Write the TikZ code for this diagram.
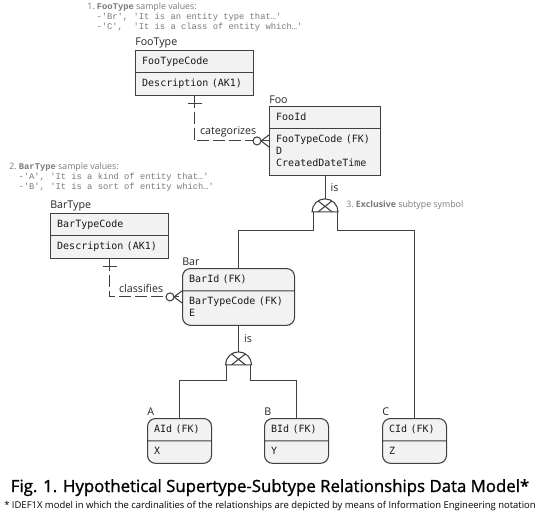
\documentclass[tikz,border=0pt]{standalone}
\usepackage{fontspec}
\setmainfont{Open Sans}
\setmonofont{Liberation Mono}
\newfontfamily\boxmono[WordSpace={1,0,0}]{DejaVu Sans Mono}
\newfontfamily\titlefont[FakeBold=1.2]{Open Sans}
\usetikzlibrary{shapes.multipart, positioning, calc}

\definecolor{boxfill}{HTML}{F2F2F2}
\definecolor{boxline}{HTML}{404040}
\definecolor{notegray}{HTML}{7A7A7A}

\begin{document}
\begin{tikzpicture}[
    x=0.75pt, y=-0.75pt,
    entity/.style={rectangle split, rectangle split parts=2, draw=boxline, fill=boxfill,
        line width=0.8pt, font=\boxmono\fontsize{7.5}{9}\selectfont, text=black!90,
        text width=#1, align=left, inner xsep=5pt, inner ysep=3.5pt, anchor=north west},
    depentity/.style={entity=#1, rounded corners=6pt},
    ename/.style={font=\fontsize{8}{9}\selectfont, text=black!85, inner sep=0pt},
    rel/.style={draw=boxline, line width=0.8pt},
    nonid/.style={rel, dash pattern=on 9pt off 3pt},
    relname/.style={font=\fontsize{8}{9}\selectfont, text=black!85, inner sep=0pt},
    note/.style={font=\fontsize{6.6}{7.5}\selectfont, text=notegray, align=left, inner sep=0pt},
    exclsym/.pic={
        \draw[rel] (-13,0) arc[start angle=180, end angle=0, radius=9.75pt] -- cycle;
        \draw[rel] (-7,0) -- (7,-11) (7,0) -- (-7,-11);
        \coordinate (-base) at (0,0);
        \coordinate (-top) at (0,-13);
        \coordinate (-left) at (-12,0);
        \coordinate (-right) at (12,0);
    }
]
\useasboundingbox[fill=white] (0,0) rectangle (540,517);

% notes
\node[note, anchor=north west] (note1) at (87,3) {1.~{\ttfamily\bfseries FooType}~sample values:\\
    \hspace*{7pt}{\ttfamily -'Br', 'It is an entity type that…'}\\
    \hspace*{7pt}{\ttfamily -'C',~~'It is a class of entity which…'}};
\node[note, anchor=north west] (note2) at (9,163) {2.~{\ttfamily\bfseries BarType}~sample values:\\
    \hspace*{7pt}{\ttfamily -'A', 'It is a kind of entity that…'}\\
    \hspace*{7pt}{\ttfamily -'B', 'It is a sort of entity which…'}};

% Foo side
\node[entity=78.5pt] (footype) at (135,50) {\strut FooTypeCode\nodepart{two}\strut Description (AK1)};
\node[ename, above right=1.5pt and 0pt of footype.north west] (footypelbl) {FooType};

\node[entity=73.25pt] (foo) at (269,106) {\strut FooId\nodepart{two}\strut FooTypeCode (FK)\\D\\CreatedDateTime\strut};
\node[ename, above right=1.5pt and 0pt of foo.north west] (foolbl) {Foo};

\draw[nonid] (footype.south) |- (foo.west);
\draw[rel] ($(footype.south)+(-7,8)$) -- ($(footype.south)+(7,8)$);
\draw[rel] ($(foo.west)+(-8,0)$) -- ($(foo.west)+(0,-6)$) ($(foo.west)+(-8,0)$) -- ($(foo.west)+(0,6)$);
\draw[rel, fill=white] ($(foo.west)+(-12,0)$) circle[radius=3pt];
\node[relname, above right=3pt and 4pt] (catlbl) at (footype.south |- foo.west) {categorizes};

% Bar side
\node[entity=78.5pt] (bartype) at (50,213) {\strut BarTypeCode\nodepart{two}\strut Description (AK1)};
\node[ename, above right=1.5pt and 0pt of bartype.north west] (bartypelbl) {BarType};

\node[depentity=74pt] (bar) at (182,268) {\strut BarId (FK)\nodepart{two}\strut BarTypeCode (FK)\\E\strut};
\node[ename, above right=1.5pt and 0pt of bar.north west] (barlbl) {Bar};

\draw[nonid] (bartype.south) |- (bar.west);
\draw[rel] ($(bartype.south)+(-7,8)$) -- ($(bartype.south)+(7,8)$);
\draw[rel] ($(bar.west)+(-8,0)$) -- ($(bar.west)+(0,-6)$) ($(bar.west)+(-8,0)$) -- ($(bar.west)+(0,6)$);
\draw[rel, fill=white] ($(bar.west)+(-12,0)$) circle[radius=3pt];
\node[relname, above right=3pt and 7pt] (clslbl) at (bartype.south |- bar.west) {classifies};

% subtypes
\node[depentity=38pt] (a) at (147,418) {\strut AId (FK)\nodepart{two}\strut X};
\node[ename, above right=1.5pt and 0pt of a.north west] (albl) {A};
\node[depentity=38pt] (b) at (264,418) {\strut BId (FK)\nodepart{two}\strut Y};
\node[ename, above right=1.5pt and 0pt of b.north west] (blbl) {B};
\node[depentity=38pt] (c) at (382,418) {\strut CId (FK)\nodepart{two}\strut Z};
\node[ename, above right=1.5pt and 0pt of c.north west] (clbl) {C};

% subtype symbols
\pic (fooxs) at ($(foo.south)+(0,36)$) {exclsym};
\draw[rel] (foo.south) -- (fooxs-top);
\node[relname, right=4pt] (fooislbl) at ($(foo.south)!0.5!(fooxs-top)$) {is};
\draw[rel] (fooxs-left) -- ++(0,19) -| (bar.north);
\draw[rel] (fooxs-right) -- ++(0,19) -| (c.north);
\node[note, anchor=west] (note3) at ($(fooxs-base)+(21,-7)$) {3.~\textbf{Exclusive} subtype symbol};

\pic (barxs) at ($(bar.south)+(0,39)$) {exclsym};
\draw[rel] (bar.south) -- (barxs-top);
\node[relname, right=4pt] (barislbl) at ($(bar.south)!0.5!(barxs-top)$) {is};
\draw[rel] (barxs-left) -- ++(0,16) -| (a.north);
\draw[rel] (barxs-right) -- ++(0,16) -| (b.north);

% caption
\node[font=\titlefont\fontsize{12.6}{14}\selectfont, anchor=base] (title) at (270,492)
    {Fig. 1. Hypothetical Supertype-Subtype Relationships Data Model*};
\node[font=\fontsize{7.1}{8}\selectfont, anchor=base] (caption) at (270,508)
    {* IDEF1X model in which the cardinalities of the relationships are depicted by means of Information Engineering notation};
\end{tikzpicture}
\end{document}
